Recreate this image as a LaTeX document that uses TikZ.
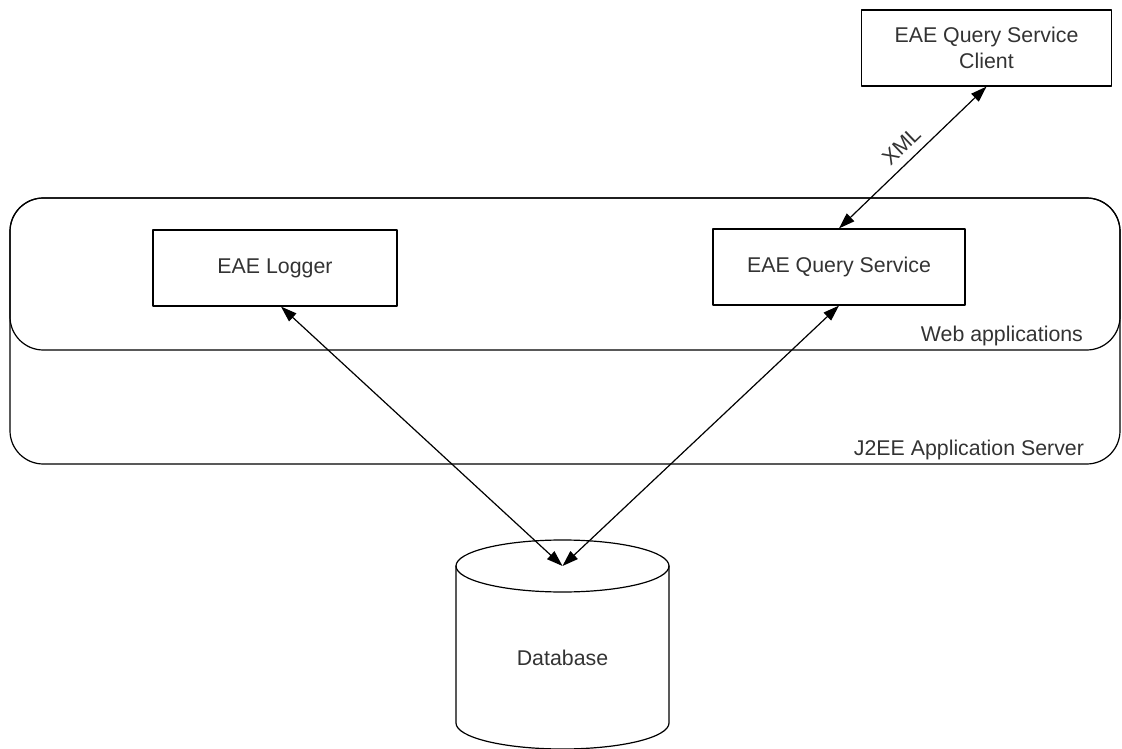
\documentclass[tikz,border=0pt]{standalone}
\usepackage{fontspec}
\setmainfont{Liberation Sans}
\usetikzlibrary{arrows.meta}

\tikzset{
  box/.style={draw, inner sep=0pt, minimum width=183pt, minimum height=57pt, align=center},
}

\begin{document}
\begin{tikzpicture}[line cap=round,line join=round,>={Triangle[length=12pt,width=8pt]},x=0.75pt,y=-0.75pt,font=\fontsize{16}{19.5}\selectfont,line width=0.9pt,text=black!80]
        \useasboundingbox (0,0) rectangle (1122,749);
        % server and web container
        \draw [rounded corners=25pt] (10,198) rectangle (1120,464);
        \draw [rounded corners=25pt] (10,198) rectangle (1120,350);
        \node [anchor=base east] (webl) at (1088,341) {Web applications};
        \node [anchor=base east] (j2eel) at (1089,455) {J2EE Application Server};
        % components
        \node [box] (logger) at (275,268) {EAE Logger};
        \node [box, minimum width=189pt] (query) at (839,267) {EAE Query Service};
        \node [box, minimum width=188pt] (client) at (986.5,48) {EAE Query Service\\Client};
        % database
        \draw (456,566) -- (456,723) arc[start angle=180,end angle=360,x radius=79.875pt,y radius=19.5pt] -- (669,566);
        \draw (562.5,566) ellipse [x radius=79.875pt, y radius=19.5pt];
        \node (db) at (562.5,658) {Database};
        \coordinate (dbtop) at (562.5,566);
        % links
        \draw [<->] ([xshift=4.5pt]logger.south) -- (dbtop);
        \draw [<->] (query.south) -- (dbtop);
        \draw [<->] (query.north) -- node[sloped,above=3pt] (xml) {XML} (client.south);
    \end{tikzpicture}
\end{document}
